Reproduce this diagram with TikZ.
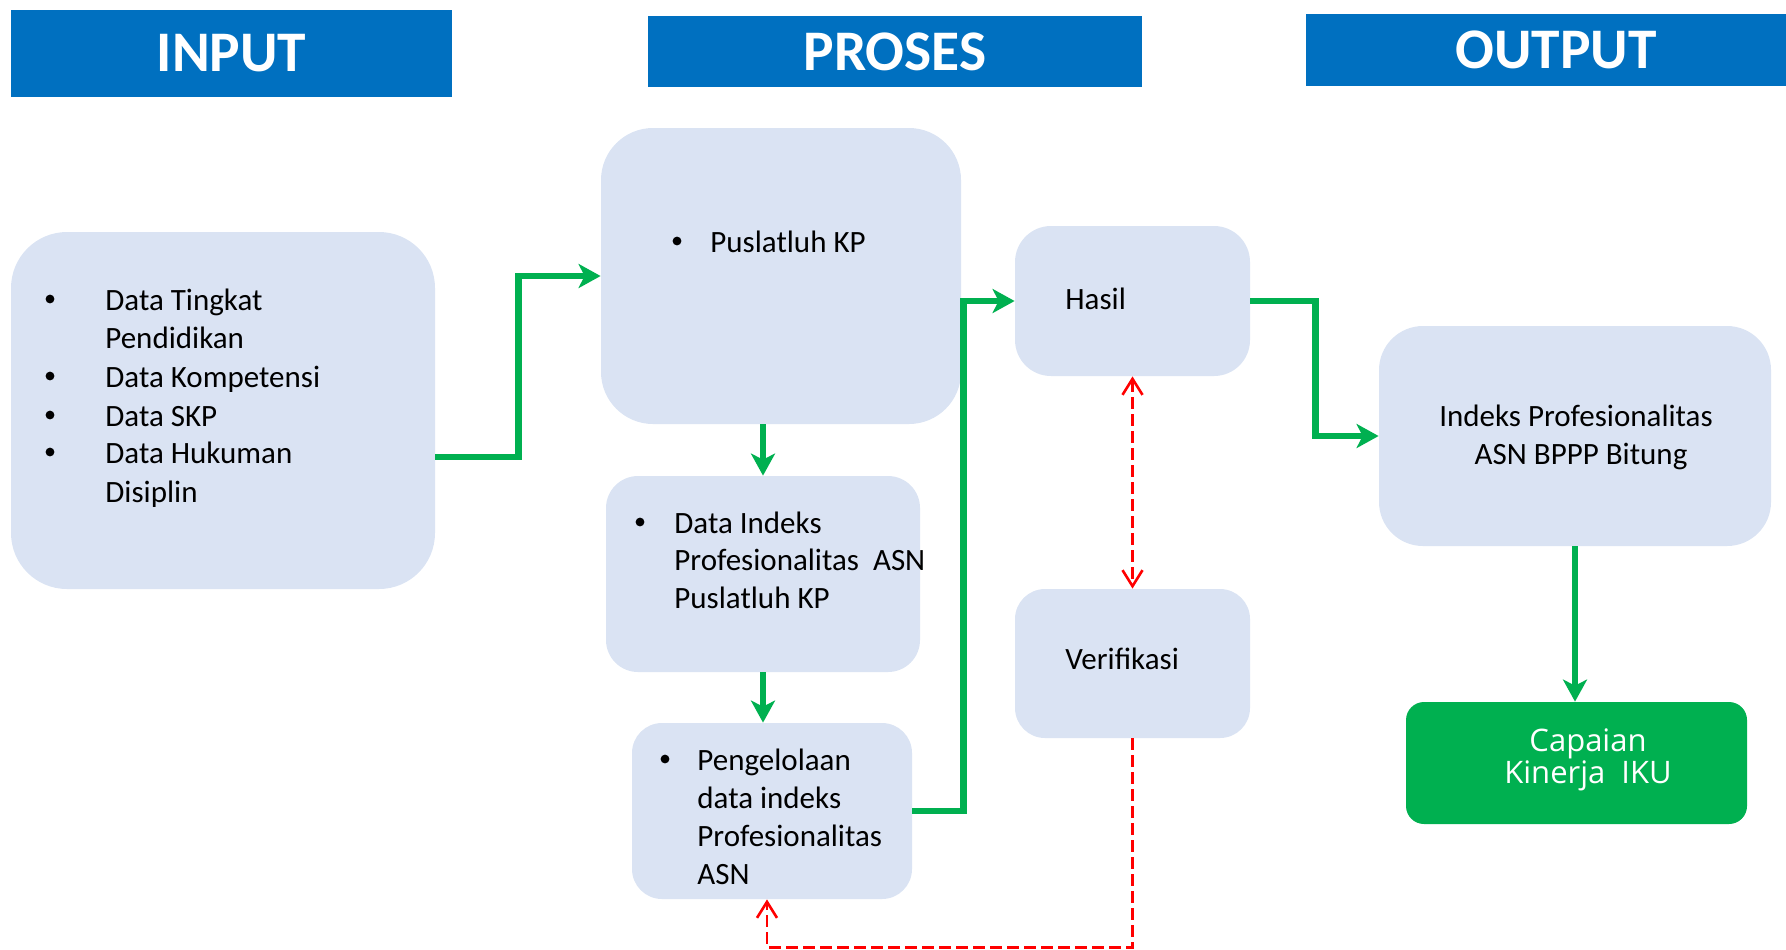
\documentclass[tikz,border=0pt]{standalone}
\usepackage{fontspec}
\setmainfont{Carlito}
\newfontfamily\capfont{Open Sans}
\usetikzlibrary{arrows.meta}
\definecolor{bannerblue}{HTML}{0070C0}
\definecolor{boxfill}{HTML}{DAE3F3}
\definecolor{flowgreen}{HTML}{00B050}
\definecolor{checkred}{HTML}{FF0000}

\begin{document}
\begin{tikzpicture}[x=0.5pt,y=-0.5pt,
  banner/.style={fill=bannerblue, inner sep=0pt, text=white,
    font=\fontsize{28.7}{34}\selectfont\bfseries},
  box/.style={fill=boxfill, inner sep=0pt},
  txt/.style={inner sep=0pt, anchor=base west, font=\fontsize{15.5}{19}\selectfont},
  bul/.style={circle, fill=black, inner sep=0pt, minimum size=4.4pt},
  ctxt/.style={inner sep=0pt, anchor=base, font=\fontsize{15.5}{19}\selectfont},
  flow/.style={draw=flowgreen, line width=3.4pt,
    -{Stealth[length=11pt,width=12pt,inset=3pt]}},
  check/.style={draw=checkred, line width=1.3pt, dash pattern=on 6pt off 2.5pt}]
\useasboundingbox (0,0) rectangle (1786,949);

% column headers
\node[banner, minimum width=220.5pt, minimum height=43.5pt] (hin) at (231.5,53.5) {INPUT};
\node[banner, minimum width=247pt, minimum height=35.5pt] (hpr) at (895,51.5) {PROSES};
\node[banner, minimum width=250pt, minimum height=36pt] (hout) at (1556,50) {OUTPUT};

% boxes
\node[box, rounded corners=28pt, minimum width=212pt, minimum height=178.5pt] (input) at (223,410.5) {};
\node[box, rounded corners=26pt, minimum width=180pt, minimum height=148pt] (pusl) at (781,276) {};
\node[box, rounded corners=16pt, minimum width=157pt, minimum height=98pt] (dataidx) at (763,574) {};
\node[box, rounded corners=15pt, minimum width=140pt, minimum height=88pt] (kelola) at (772,811) {};
\node[box, rounded corners=18pt, minimum width=117.5pt, minimum height=75pt] (hasil) at (1132.5,301) {};
\node[box, rounded corners=15pt, minimum width=117.5pt, minimum height=74.5pt] (verif) at (1132.5,663.5) {};
\node[box, rounded corners=22pt, minimum width=196pt, minimum height=110pt] (indeks) at (1575,436) {};
\node[fill=flowgreen, inner sep=0pt, rounded corners=9pt, minimum width=170.5pt, minimum height=61pt] (capaian) at (1576.5,763) {};

% input list
\node[bul] (inb1) at (50,299) {};
\node[bul] (inb2) at (50,376) {};
\node[bul] (inb3) at (50,415) {};
\node[bul] (inb4) at (50,452) {};
\node[txt] (in1) at (105,310) {Data Tingkat};
\node[txt] (in2) at (105,348) {Pendidikan};
\node[txt] (in3) at (105,387) {Data Kompetensi};
\node[txt] (in4) at (105,426) {Data SKP};
\node[txt] (in5) at (105,463) {Data Hukuman};
\node[txt] (in6) at (105,502) {Disiplin};

% process texts
\node[bul] (pub) at (677,241) {};
\node[txt] (pu1) at (710,252) {Puslatluh KP};

\node[bul] (dib) at (640,522) {};
\node[txt] (di1) at (674,533) {Data Indeks};
\node[txt] (di2) at (674,570) {Profesionalitas\ \ ASN};
\node[txt] (di3) at (674,608) {Puslatluh KP};

\node[bul] (keb) at (665,759) {};
\node[txt] (ke1) at (697,770) {Pengelolaan};
\node[txt] (ke2) at (697,808) {data indeks};
\node[txt] (ke3) at (697,846) {Profesionalitas};
\node[txt] (ke4) at (697,884) {ASN};

\node[txt] (ha1) at (1065,309) {Hasil};
\node[txt] (ve1) at (1065,669) {Verifikasi};

% output texts
\node[ctxt] (id1) at (1576,426) {Indeks Profesionalitas};
\node[ctxt] (id2) at (1581,464) {ASN BPPP Bitung};
\node[inner sep=0pt, anchor=base, text=white, font=\capfont\fontsize{15.5}{19}\selectfont] (ca1) at (1588,751) {Capaian};
\node[inner sep=0pt, anchor=base, text=white, font=\capfont\fontsize{15.5}{19}\selectfont] (ca2) at (1588,783) {Kinerja\ \ IKU};

% main flow
\draw[flow] ([yshift=-23.25pt]input.east) -- ++(83,0) |- (pusl.west);
\draw[flow] (pusl.south -| dataidx.north) -- (dataidx.north);
\draw[flow] (dataidx.south) -- (dataidx.south |- kelola.north);
\draw[flow] (kelola.east) -- ++(51,0) |- (hasil.west);
\draw[flow] (hasil.east) -- ++(65,0) |- (indeks.west);
\draw[flow] (indeks.south) -- (indeks.south |- capaian.north);

% verification loop
\draw[check, {Straight Barb[length=8pt,width=10pt]}-{Straight Barb[length=8pt,width=10pt]}] (hasil.south) -- (verif.north);
\draw[check, -{Straight Barb[length=8pt,width=10pt]}] (verif.south) -- ++(0,209) -| ([xshift=-2.5pt]kelola.south);
\end{tikzpicture}
\end{document}
